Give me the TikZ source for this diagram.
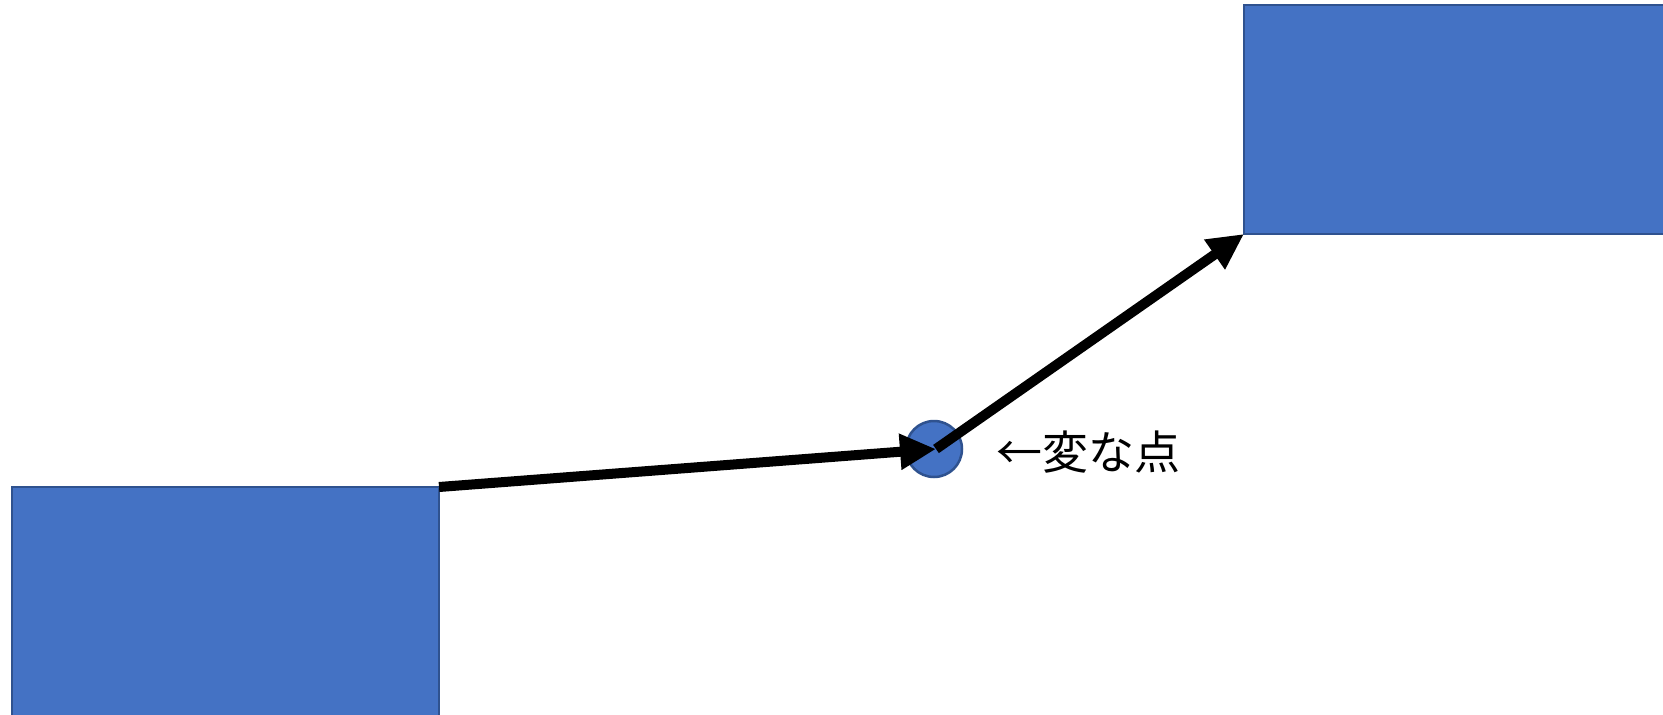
\documentclass[tikz,border=0pt]{standalone}
\usepackage{fontspec}
\newfontfamily\jpfont{Noto Sans CJK JP}
\usetikzlibrary{arrows.meta}
\definecolor{boxfill}{HTML}{4472C4}
\definecolor{boxline}{HTML}{2F528F}
\begin{document}
\begin{tikzpicture}[x=1pt,y=-1pt,
  blockbox/.style={fill=boxfill,draw=boxline,line width=2.5pt},
  conn/.style={line width=10pt,-{Triangle[length=36pt,width=34pt]}}]
\useasboundingbox (0,0) rectangle (1663,715);
\fill[white] (0,0) rectangle (1663,715);
\path[blockbox] (12,487) rectangle (439,740);
\path[blockbox] (1244,5) rectangle (1700,234);
\coordinate (a) at (439,487);
\coordinate (b) at (1244,234);
\node[blockbox,circle,minimum size=56pt,inner sep=0pt] (p) at (934,449) {};
\coordinate (pc) at (936,449);
\draw[conn] (a) -- (pc);
\draw[conn] (pc) -- (b);
\node[anchor=west,inner sep=0pt,font=\jpfont\fontsize{46pt}{46pt}\selectfont] (lbl) at (996,452) {←変な点};
\end{tikzpicture}
\end{document}
